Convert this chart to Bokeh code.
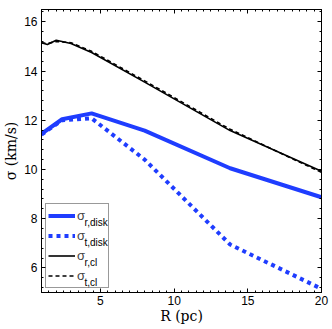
from bokeh.plotting import figure
from bokeh.models import (Range1d, LinearAxis, SingleIntervalTicker, Legend, LegendItem, Label)
from bokeh.embed import file_html
from bokeh.resources import INLINE

# data
R_disk = [1.0, 2.4, 4.4, 8.0, 13.8, 20.0]
sig_r_disk = [11.45, 12.04, 12.28, 11.58, 10.05, 8.87]
sig_t_disk = [11.42, 12.0, 12.08, 10.4, 6.95, 5.15]

R_cl = [1.0, 1.4, 2.0, 3.0, 4.4, 8.0, 13.8, 20.0]
sig_r_cl = [15.15, 15.08, 15.25, 15.12, 14.75, 13.55, 11.58, 9.93]
sig_t_cl = [15.15, 15.12, 15.2, 15.15, 14.8, 13.6, 11.63, 9.88]

legend_main = ["σ", "σ", "σ", "σ"]
legend_sub = ["r,disk", "t,disk", "r,cl", "t,cl"]
x_title = "R (pc)"
y_title = "σ (km/s)"

x_ticks_interval = 5
y_ticks_interval = 2

BLUE = "#1f3dff"
TICK_FONT = "Liberation Sans"
LABEL_FONT = "DejaVu Serif"

p = figure(width=332, height=329, output_backend="svg", toolbar_location=None,
           x_range=Range1d(1, 20), y_range=Range1d(5, 16.5),
           min_border_left=38, min_border_right=11, min_border_top=9, min_border_bottom=37)
p.xgrid.visible = False
p.ygrid.visible = False
p.outline_line_color = "black"
p.outline_line_width = 1
p.background_fill_color = "white"
p.border_fill_color = "white"

def style(ax, show_labels):
    ax.axis_line_color = "black"
    ax.major_tick_line_color = "black"
    ax.minor_tick_line_color = "black"
    ax.major_tick_in = 4
    ax.major_tick_out = 0
    ax.minor_tick_in = 2
    ax.minor_tick_out = 0
    if show_labels:
        ax.major_label_text_font = TICK_FONT
        ax.major_label_text_font_size = "12px"
        ax.major_label_text_color = "black"
    else:
        ax.major_label_text_font_size = "1px"
        ax.major_label_text_color = None
        ax.major_label_standoff = 0

p.xaxis.ticker = SingleIntervalTicker(interval=x_ticks_interval, num_minor_ticks=10)
p.yaxis.ticker = SingleIntervalTicker(interval=y_ticks_interval, num_minor_ticks=5)
style(p.xaxis[0], True)
style(p.yaxis[0], True)
p.xaxis.major_label_standoff = 3
p.yaxis.major_label_standoff = 4
p.xaxis.axis_label = x_title
p.yaxis.axis_label = y_title
p.xaxis.axis_label_standoff = 0
p.yaxis.axis_label_standoff = 2
for ax in (p.xaxis[0], p.yaxis[0]):
    ax.axis_label_text_font = LABEL_FONT
    ax.axis_label_text_font_size = "14px"
    ax.axis_label_text_font_style = "normal"
    ax.axis_label_text_color = "black"

top = LinearAxis(ticker=SingleIntervalTicker(interval=x_ticks_interval, num_minor_ticks=10))
right = LinearAxis(ticker=SingleIntervalTicker(interval=y_ticks_interval, num_minor_ticks=5))
style(top, False)
style(right, False)
p.add_layout(top, "above")
p.add_layout(right, "right")

r1 = p.line(R_disk, sig_r_disk, line_color=BLUE, line_width=4)
r2 = p.line(R_disk, sig_t_disk, line_color=BLUE, line_width=4, line_dash="4 4")
r3 = p.line(R_cl, sig_r_cl, line_color="black", line_width=1.6)
r4 = p.line(R_cl, sig_t_cl, line_color="black", line_width=1.6, line_dash="4 3")

items = [LegendItem(label=t, renderers=[r]) for t, r in zip(legend_main, [r1, r2, r3, r4])]
legend = Legend(items=items, location="bottom_left", margin=4, padding=2, spacing=1,
                glyph_width=27, glyph_height=19, label_height=19, label_width=29,
                label_standoff=2, label_text_font=TICK_FONT, label_text_font_size="13px",
                border_line_color="#333333", border_line_width=1,
                background_fill_color=None, background_fill_alpha=0)
p.add_layout(legend, "center")

# subscripts of legend labels (screen units relative to the plot frame)
centers = [75.5, 55.5, 35.5, 15.5]
for s, c in zip(legend_sub, centers):
    p.add_layout(Label(x=43, y=c - 5, x_units="screen", y_units="screen", text=s,
                       text_font=TICK_FONT, text_font_size="10px", text_baseline="middle",
                       text_color="black"))

open("out.html", "w").write(file_html(p, INLINE))
